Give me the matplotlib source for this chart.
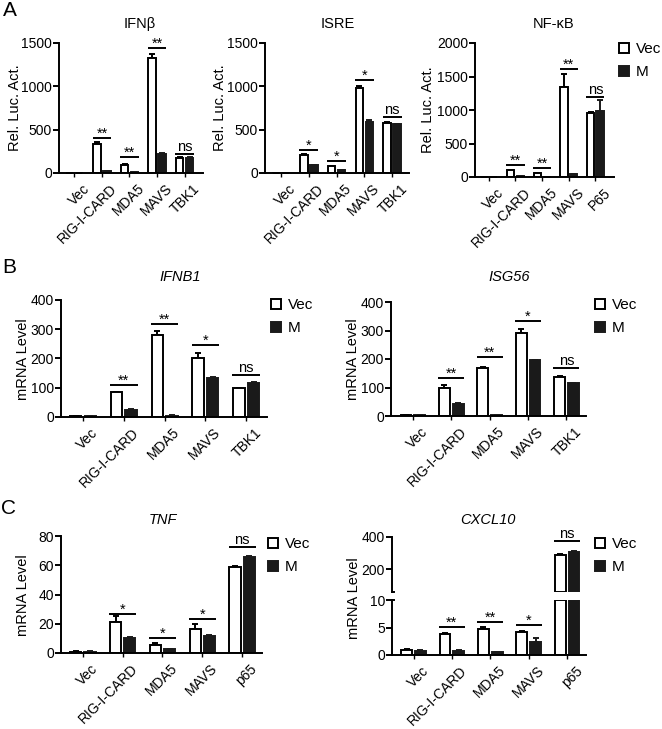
import numpy as np
import matplotlib
matplotlib.use('Agg')
import matplotlib.pyplot as plt
import matplotlib.transforms as mtrans
from matplotlib.patches import Patch

plt.rcParams['font.family'] = ['Liberation Sans', 'DejaVu Sans']
plt.rcParams['font.size'] = 10

# ---- data ----
names_tbk1 = ['Vec', 'RIG-I-CARD', 'MDA5', 'MAVS', 'TBK1']
names_P65 = ['Vec', 'RIG-I-CARD', 'MDA5', 'MAVS', 'P65']
names_p65 = ['Vec', 'RIG-I-CARD', 'MDA5', 'MAVS', 'p65']

ifnb_vec = [2, 340, 95, 1330, 170]
ifnb_vec_err = [0, 12, 8, 40, 10]
ifnb_m = [2, 20, 8, 215, 175]
ifnb_m_err = [0, 3, 2, 15, 8]
ifnb_sig = ['', '**', '**', '**', 'ns']
ifnb_sig_y = [0, 400, 185, 1440, 220]

isre_vec = [3, 210, 75, 975, 580]
isre_vec_err = [0, 10, 10, 30, 10]
isre_m = [3, 90, 30, 590, 560]
isre_m_err = [0, 5, 3, 20, 10]
isre_sig = ['', '*', '*', '*', 'ns']
isre_sig_y = [0, 265, 138, 1073, 646]

nfkb_vec = [2, 100, 55, 1350, 960]
nfkb_vec_err = [0, 5, 5, 180, 10]
nfkb_m = [2, 8, 5, 45, 985]
nfkb_m_err = [0, 2, 2, 5, 160]
nfkb_sig = ['', '**', '**', '**', 'ns']
nfkb_sig_y = [0, 180, 135, 1610, 1195]

ifnb1_vec = [2, 85, 280, 203, 98]
ifnb1_vec_err = [0, 2, 15, 15, 2]
ifnb1_m = [2, 25, 5, 133, 117]
ifnb1_m_err = [0, 2, 2, 4, 2]
ifnb1_sig = ['', '**', '**', '*', 'ns']
ifnb1_sig_y = [0, 109, 318, 246, 144]

isg56_vec = [2, 100, 167, 292, 137]
isg56_vec_err = [0, 8, 6, 15, 3]
isg56_m = [2, 43, 3, 195, 115]
isg56_m_err = [0, 3, 1, 3, 2]
isg56_sig = ['', '**', '**', '*', 'ns']
isg56_sig_y = [0, 133, 207, 333, 168]

tnf_vec = [1, 21, 5.5, 16.5, 59]
tnf_vec_err = [0.3, 4, 1, 3, 0.5]
tnf_m = [1, 10.2, 2.5, 11.5, 65.5]
tnf_m_err = [0.3, 1, 0.5, 0.5, 1]
tnf_sig = ['', '*', '*', '*', 'ns']
tnf_sig_y = [0, 27, 10, 23, 72.5]

cxcl10_vec = [0.9, 3.9, 4.7, 4.1, 290]
cxcl10_vec_err = [0.2, 0.1, 0.4, 0.2, 3]
cxcl10_m = [0.8, 0.8, 0.5, 2.4, 310]
cxcl10_m_err = [0.1, 0.2, 0.1, 0.7, 3]
cxcl10_sig = ['', '**', '**', '*', 'ns']
cxcl10_sig_y = [0, 5.1, 6.0, 5.5, 375]

W, H = 662, 729
LW = 1.4
DARK = '#1a1a1a'


def box(x0, y0, x1, y1):
    return [x0 / W, 1 - y1 / H, (x1 - x0) / W, (y1 - y0) / H]


def one_series(ax, xpos, vals, errs, color, edge, bottom):
    vals = np.asarray(vals, float)
    errs = np.asarray(errs, float)
    keep = vals > bottom
    ax.bar(xpos[keep], vals[keep] - bottom, 0.28, bottom=bottom, color=color,
           edgecolor=edge, lw=LW, zorder=2)
    ax.errorbar(xpos[keep], vals[keep], yerr=[np.zeros(keep.sum()), errs[keep]],
                fmt='none', ecolor=edge, elinewidth=LW, capsize=2.5,
                capthick=LW, zorder=1)


def draw_bars(ax, vec, vec_err, m, m_err, bottom=0, off=0.18):
    x = np.arange(len(vec))
    b = bottom if bottom else -1e-9
    one_series(ax, x - off, vec, vec_err, 'white', 'black', b)
    one_series(ax, x + off, m, m_err, DARK, DARK, b)


def draw_sig(ax, sig, sig_y, keep=None, half=0.34):
    for i, (s, y) in enumerate(zip(sig, sig_y)):
        if not s or (keep is not None and not keep(y)):
            continue
        ax.plot([i - half, i + half], [y, y], color='black', lw=LW,
                clip_on=False, solid_capstyle='butt')
        ax.annotate(s, (i, y), xytext=(0, 0 if s == 'ns' else -2),
                    textcoords='offset points', ha='center', va='bottom',
                    fontsize=10.5 if s == 'ns' else 10.5)


def style(ax, names, xlim, ylim, yticks, bottom_axis=True):
    ax.set_xlim(xlim)
    ax.set_ylim(ylim)
    ax.set_yticks(yticks)
    ax.spines['top'].set_visible(False)
    ax.spines['right'].set_visible(False)
    ax.spines['left'].set_linewidth(LW)
    ax.spines['bottom'].set_linewidth(LW)
    ax.tick_params(axis='y', length=4, width=LW, pad=1, labelsize=10)
    if bottom_axis:
        ax.set_xticks(range(len(names)))
        ax.set_xticklabels(names, rotation=45, ha='right', rotation_mode='anchor')
        ax.tick_params(axis='x', length=3, width=1.0, pad=3, labelsize=10)
        shift = mtrans.ScaledTranslation(8 / 100, 0, ax.figure.dpi_scale_trans)
        for lab in ax.get_xticklabels():
            lab.set_transform(lab.get_transform() + shift)
    else:
        ax.spines['bottom'].set_visible(False)
        ax.set_xticks([])


def legend(fig, x, y):
    handles = [Patch(facecolor='white', edgecolor='black', lw=LW, label='Vec'),
               Patch(facecolor=DARK, edgecolor=DARK, lw=LW, label='M')]
    fig.legend(handles=handles, loc='upper left', bbox_to_anchor=(x / W, 1 - y / H),
               frameon=False, fontsize=11, handlelength=0.65, handleheight=0.65,
               handletextpad=0.45, labelspacing=0.6, borderpad=0, borderaxespad=0)


fig = plt.figure(figsize=(W / 100, H / 100), dpi=100)

# ---- panel A ----
a1 = fig.add_axes(box(59, 43, 203, 173))
draw_bars(a1, ifnb_vec, ifnb_vec_err, ifnb_m, ifnb_m_err)
draw_sig(a1, ifnb_sig, ifnb_sig_y)
style(a1, names_tbk1, (-0.56, 4.67), (0, 1500), [0, 500, 1000, 1500])

a2 = fig.add_axes(box(265, 43, 409, 173))
draw_bars(a2, isre_vec, isre_vec_err, isre_m, isre_m_err)
draw_sig(a2, isre_sig, isre_sig_y)
style(a2, names_tbk1, (-0.57, 4.6), (0, 1500), [0, 500, 1000, 1500])

a3 = fig.add_axes(box(475, 43, 614, 177))
draw_bars(a3, nfkb_vec, nfkb_vec_err, nfkb_m, nfkb_m_err)
draw_sig(a3, nfkb_sig, nfkb_sig_y)
style(a3, names_P65, (-0.52, 4.7), (0, 2000), [0, 500, 1000, 1500, 2000])

fig.text(140 / W, 1 - 24 / H, 'IFNβ', ha='center', va='center', fontsize=10.5)
fig.text(338 / W, 1 - 24 / H, 'ISRE', ha='center', va='center', fontsize=10.5)
fig.text(554 / W, 1 - 24 / H, 'NF-κB', ha='center', va='center', fontsize=10.5)
for xp, yp in [(15, 108), (220, 108), (428, 110)]:
    fig.text(xp / W, 1 - yp / H, 'Rel. Luc. Act.', rotation=90, ha='center',
             va='center', fontsize=10.5)
legend(fig, 619, 42)

# ---- panel B ----
b1 = fig.add_axes(box(61, 300, 267, 417))
draw_bars(b1, ifnb1_vec, ifnb1_vec_err, ifnb1_m, ifnb1_m_err)
draw_sig(b1, ifnb1_sig, ifnb1_sig_y)
style(b1, names_tbk1, (-0.54, 4.51), (0, 400), [0, 100, 200, 300, 400])

b2 = fig.add_axes(box(391, 302, 586, 416))
draw_bars(b2, isg56_vec, isg56_vec_err, isg56_m, isg56_m_err)
draw_sig(b2, isg56_sig, isg56_sig_y)
style(b2, names_tbk1, (-0.57, 4.51), (0, 400), [0, 100, 200, 300, 400])

fig.text(180 / W, 1 - 277 / H, 'IFNB1', style='italic', ha='center', va='center', fontsize=10.5)
fig.text(509 / W, 1 - 277 / H, 'ISG56', style='italic', ha='center', va='center', fontsize=10.5)
for xp in [23, 353]:
    fig.text(xp / W, 1 - 359 / H, 'mRNA Level', rotation=90, ha='center',
             va='center', fontsize=10.5)
legend(fig, 271, 298)
legend(fig, 595, 298)

# ---- panel C ----
c1 = fig.add_axes(box(61, 536, 262, 653))
draw_bars(c1, tnf_vec, tnf_vec_err, tnf_m, tnf_m_err)
draw_sig(c1, tnf_sig, tnf_sig_y)
style(c1, names_p65, (-0.55, 4.5), (0, 80), [0, 20, 40, 60, 80])

# CXCL10 with broken y axis
lo_top, hi_bottom = 10, 60
c2_hi = fig.add_axes(box(392, 537, 586, 592))
c2_lo = fig.add_axes(box(392, 600, 586, 655))
draw_bars(c2_hi, cxcl10_vec, cxcl10_vec_err, cxcl10_m, cxcl10_m_err, bottom=hi_bottom)
draw_bars(c2_lo, np.minimum(cxcl10_vec, lo_top), cxcl10_vec_err,
          np.minimum(cxcl10_m, lo_top), cxcl10_m_err)
draw_sig(c2_hi, cxcl10_sig, cxcl10_sig_y, keep=lambda y: y > lo_top)
draw_sig(c2_lo, cxcl10_sig, cxcl10_sig_y, keep=lambda y: y <= lo_top)
style(c2_hi, names_p65, (-0.56, 4.49), (hi_bottom, 400), [200, 400], bottom_axis=False)
style(c2_lo, names_p65, (-0.56, 4.49), (0, lo_top), [0, 5, 10])
c2_hi.plot([-0.56, -0.50], [hi_bottom, hi_bottom], color='black', lw=LW, clip_on=False)
c2_lo.plot([-0.56, -0.50], [lo_top, lo_top], color='black', lw=LW, clip_on=False)

fig.text(163 / W, 1 - 520 / H, 'TNF', style='italic', ha='center', va='center', fontsize=10.5)
fig.text(488 / W, 1 - 520 / H, 'CXCL10', style='italic', ha='center', va='center', fontsize=10.5)
fig.text(23 / W, 1 - 595 / H, 'mRNA Level', rotation=90, ha='center', va='center', fontsize=10.5)
fig.text(354 / W, 1 - 598 / H, 'mRNA Level', rotation=90, ha='center', va='center', fontsize=10.5)
legend(fig, 268, 537)
legend(fig, 595, 537)

# panel letters
fig.text(10 / W, 1 - 11 / H, 'A', ha='center', va='center', fontsize=15)
fig.text(9 / W, 1 - 268 / H, 'B', ha='center', va='center', fontsize=15)
fig.text(9 / W, 1 - 508 / H, 'C', ha='center', va='center', fontsize=15)

fig.savefig('out.png', dpi=100)
